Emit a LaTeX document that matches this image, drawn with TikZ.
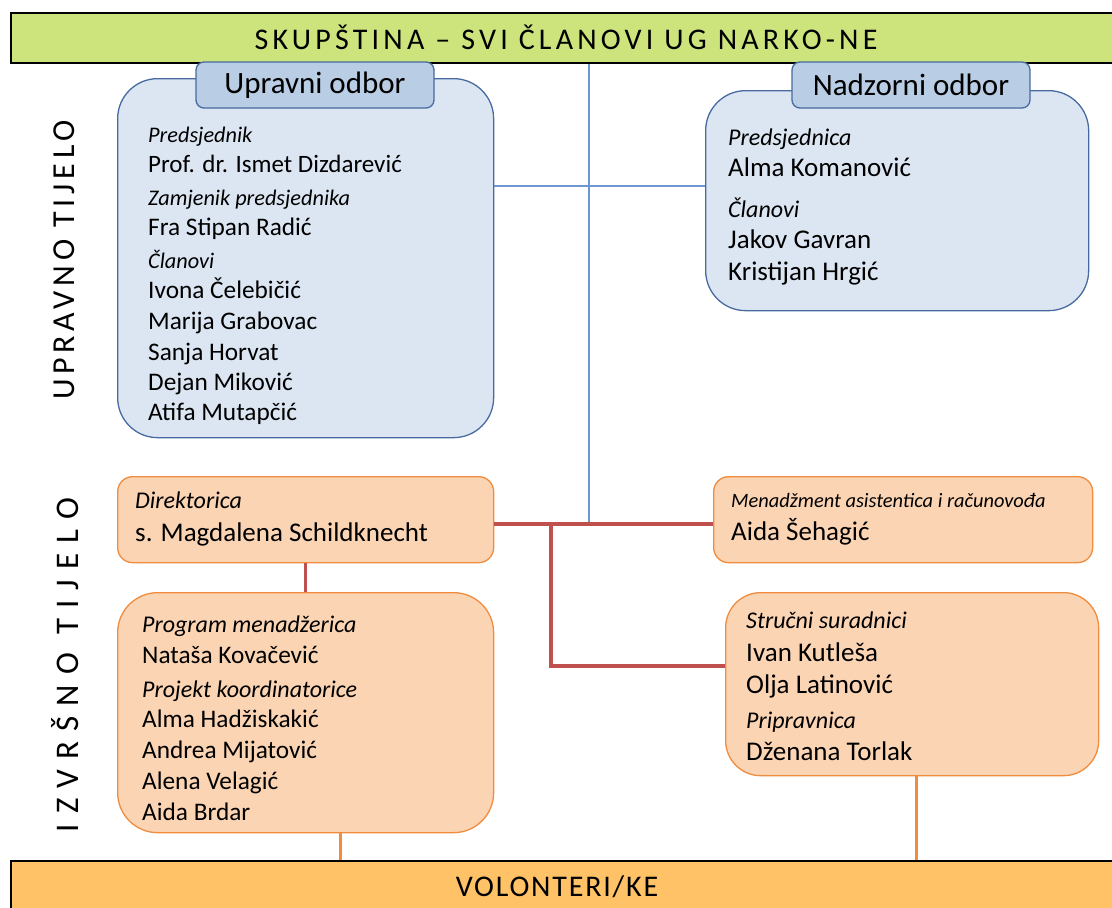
\documentclass[tikz,border=0pt]{standalone}
\usepackage{fontspec}
\setmainfont{Carlito}
\definecolor{skupgreen}{RGB}{205,228,125}
\definecolor{volorange}{RGB}{255,194,102}
\definecolor{boxblue}{RGB}{220,230,242}
\definecolor{tabblue}{RGB}{185,205,229}
\definecolor{edgeblue}{RGB}{72,106,160}
\definecolor{lineblue}{RGB}{110,150,210}
\definecolor{boxorange}{RGB}{251,212,180}
\definecolor{edgeorange}{RGB}{240,140,62}
\definecolor{linered}{RGB}{192,80,77}

\begin{document}
\begin{tikzpicture}[x=1pt, y=-1pt,
		bar/.style={draw=black, line width=1.8pt, anchor=north west, minimum width=1110pt},
		bluebox/.style={draw=edgeblue, fill=boxblue, line width=1.3pt, anchor=north west, rounded corners=40pt},
		bluetab/.style={draw=edgeblue, fill=tabblue, line width=1.3pt, rounded corners=8pt, minimum width=238pt, minimum height=46pt, font=\fontsize{31}{36}\selectfont},
		orbox/.style={draw=edgeorange, fill=boxorange, line width=1.3pt, anchor=north west},
		role/.style={anchor=base west, inner sep=0pt, font=\fontsize{24}{28}\selectfont\itshape},
		person/.style={anchor=base west, inner sep=0pt, font=\fontsize{25.3}{30}\selectfont},
		bigperson/.style={anchor=base west, inner sep=0pt, font=\fontsize{27}{32}\selectfont},
		sidelabel/.style={rotate=90, inner sep=0pt},
		blueline/.style={draw=lineblue, line width=1.4pt},
		redline/.style={draw=linered, line width=3.2pt},
		orline/.style={draw=edgeorange, line width=3pt}]
	\useasboundingbox (0,0) rectangle (1112,908);

	\node[bar, fill=skupgreen, minimum height=50pt] (skupstina) at (10,12) {};
	\node[font=\fontsize{30}{34}\selectfont\addfontfeature{LetterSpace=14}] (skuptxt) at (566,37) {SKUPŠTINA – SVI ČLANOVI UG NARKO-NE};
	\node[bar, fill=volorange, minimum height=60pt] (volonteri) at (10,860) {};
	\node[font=\fontsize{30}{34}\selectfont\addfontfeature{LetterSpace=6}] (voltxt) at (557,887) {VOLONTERI/KE};

	\node[sidelabel, font=\fontsize{32}{36}\selectfont\addfontfeature{LetterSpace=15}] (upravtijelo) at (64,260) {UPRAVNO TIJELO};
	\node[sidelabel, font=\fontsize{33}{38}\selectfont\addfontfeature{LetterSpace=31}] (izvrtijelo) at (65,665) {IZVRŠNO TIJELO};

	\node[bluebox, minimum width=376pt, minimum height=359pt] (upravni) at (117,78) {};
	\node[bluetab] (upravtab) at (315,85) {Upravni odbor};
	\node[bluebox, minimum width=383pt, minimum height=220pt] (nadzorni) at (705,90) {};
	\node[bluetab] (nadztab) at (911,85) {Nadzorni odbor};

	\node[orbox, rounded corners=15pt, minimum width=376pt, minimum height=86pt] (direktor) at (117,476) {};
	\node[orbox, rounded corners=15pt, minimum width=379pt, minimum height=86pt] (menadzment) at (713,476) {};
	\node[orbox, rounded corners=40pt, minimum width=376pt, minimum height=240pt] (program) at (117,592) {};
	\node[orbox, rounded corners=35pt, minimum width=373pt, minimum height=183pt] (strucni) at (725,592) {};

	% upravni odbor
	\node[role, font=\fontsize{22.3}{26}\selectfont\itshape] (u1) at (148,142) {Predsjednik};
	\node[person, font=\fontsize{25}{30}\selectfont] (u2) at (148,172.5) {Prof. dr. Ismet Dizdarević};
	\node[role, font=\fontsize{22.3}{26}\selectfont\itshape] (u3) at (148,205) {Zamjenik predsjednika};
	\node[person] (u4) at (148,235) {Fra Stipan Radić};
	\node[role, font=\fontsize{22.3}{26}\selectfont\itshape] (u5) at (148,268) {Članovi};
	\node[person] (u6) at (148,298) {Ivona Čelebičić};
	\node[person] (u7) at (148,329) {Marija Grabovac};
	\node[person] (u8) at (148,360) {Sanja Horvat};
	\node[person] (u9) at (148,390) {Dejan Miković};
	\node[person] (u10) at (148,420) {Atifa Mutapčić};

	% nadzorni odbor
	\node[role] (n1) at (728,145) {Predsjednica};
	\node[bigperson] (n2) at (728,176.5) {Alma Komanović};
	\node[role] (n3) at (728,217) {Članovi};
	\node[bigperson] (n4) at (728,248) {Jakov Gavran};
	\node[bigperson] (n5) at (728,280) {Kristijan Hrgić};

	\node[role] (d1) at (135,508) {Direktorica};
	\node[bigperson] (d2) at (135,541) {s. Magdalena Schildknecht};
	\node[role, font=\fontsize{20.4}{24}\selectfont\itshape] (m1) at (731,507) {Menadžment asistentica i računovođa};
	\node[bigperson] (m2) at (731,540) {Aida Šehagić};

	\node[role] (p1) at (142,632) {Program menadžerica};
	\node[person] (p2) at (142,663) {Nataša Kovačević};
	\node[role] (p3) at (142,697) {Projekt koordinatorice};
	\node[person] (p4) at (142,727) {Alma Hadžiskakić};
	\node[person] (p5) at (142,758) {Andrea Mijatović};
	\node[person] (p6) at (142,789) {Alena Velagić};
	\node[person] (p7) at (142,820) {Aida Brdar};

	\node[role] (s1) at (746,628) {Stručni suradnici};
	\node[bigperson] (s2) at (746,661.5) {Ivan Kutleša};
	\node[bigperson] (s3) at (746,693) {Olja Latinović};
	\node[role] (s4) at (746,728) {Pripravnica};
	\node[bigperson] (s5) at (746,760) {Dženana Torlak};

	% veze
	\coordinate (bjoin) at (589,186);
	\coordinate (hub) at (589,524);
	\coordinate (rsplit) at (551,524);
	\coordinate (rturn) at (551,666);
	\coordinate (vol1) at (340,846);
	\coordinate (vol2) at (916,846);
	\draw[blueline] (skupstina.south -| hub) -- (hub);
	\draw[blueline] (upravni.east |- bjoin) -- (nadzorni.west |- bjoin);
	\draw[redline] (direktor.east |- hub) -- (menadzment.west |- hub);
	\draw[redline] (rsplit) -- (rturn) -- (strucni.west |- rturn);
	\draw[redline] (direktor.south) -- (program.north);
	\draw[orline] (program.south -| vol1) -- (volonteri.north -| vol1);
	\draw[orline] (strucni.south -| vol2) -- (volonteri.north -| vol2);
\end{tikzpicture}
\end{document}
